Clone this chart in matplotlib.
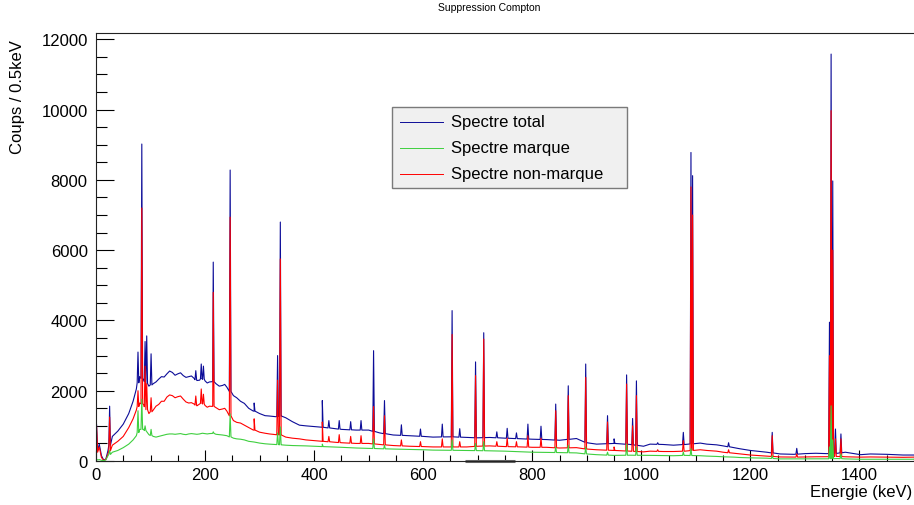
import numpy as np
import matplotlib
matplotlib.use('Agg')
import matplotlib.pyplot as plt
from matplotlib.ticker import MultipleLocator
from matplotlib.patches import Rectangle
from matplotlib.lines import Line2D

plt.rcParams['font.family'] = ['Liberation Sans', 'DejaVu Sans']

# continuum (keV, coups / 0.5keV)
cont_E = [0, 1, 3, 6, 10, 14, 18, 22, 30, 40, 50, 60, 68, 74, 80, 88, 97, 105,
          110, 115, 120, 125, 130, 135, 140, 145, 150, 155,
          160, 165, 170, 175, 180, 185, 190, 195, 200, 204,
          208, 214, 220, 226, 232, 236, 240, 252, 258, 265,
          272, 280, 290, 300, 310, 318, 330, 340, 348, 360,
          373, 385, 400, 415, 434, 450, 477, 500, 520, 545,
          575, 600, 618, 650, 680, 700, 722, 750, 783, 800,
          826, 850, 881, 900, 918, 950, 980, 1004, 1016, 1040,
          1059, 1080, 1108, 1120, 1138, 1150, 1170, 1180, 1200, 1230,
          1255, 1280, 1300, 1320, 1340, 1360, 1374, 1402, 1420, 1450,
          1480, 1500]
cont_total = [0, 1050, 300, 480, 150, 30, 50, 300, 700, 850, 1050, 1350, 1700, 2050, 2400, 2300, 2130, 2200,
              2250, 2330, 2400, 2390, 2480, 2560, 2520, 2440, 2480, 2510,
              2430, 2380, 2400, 2420, 2350, 2290, 2300, 2360, 2280, 2220,
              2250, 2270, 2200, 2130, 2150, 2180, 2100, 1860, 1800, 1700,
              1640, 1500, 1420, 1350, 1290, 1280, 1260, 1280, 1230, 1120,
              1020, 1000, 980, 960, 930, 900, 880, 880, 800, 740,
              720, 700, 680, 690, 670, 660, 670, 650, 630, 620,
              610, 590, 640, 520, 480, 500, 470, 420, 480, 470,
              450, 470, 510, 480, 460, 430, 380, 350, 300, 250,
              200, 190, 210, 220, 210, 220, 250, 180, 200, 190,
              170, 170]
cont_marque = [0, 50, 30, 40, 20, 10, 30, 150, 250, 300, 380, 480, 600, 720, 900, 900, 750, 700,
               680, 700, 720, 740, 760, 770, 770, 760, 770, 780,
               760, 750, 770, 780, 770, 760, 770, 790, 780, 770,
               780, 790, 760, 750, 740, 730, 720, 650, 630, 620,
               600, 560, 540, 510, 490, 480, 470, 460, 450, 440,
               435, 430, 420, 410, 400, 390, 370, 360, 350, 340,
               330, 320, 310, 305, 300, 295, 290, 280, 260, 250,
               245, 240, 230, 200, 180, 160, 165, 160, 160, 155,
               150, 160, 150, 140, 130, 120, 110, 100, 90, 80,
               60, 60, 60, 60, 60, 70, 60, 50, 50, 50,
               50, 50]
cont_non_marque = [0, 1000, 250, 400, 100, 20, 40, 200, 450, 560, 700, 950, 1200, 1450, 1650, 1600, 1350, 1450,
                   1560, 1610, 1700, 1700, 1820, 1880, 1860, 1800, 1830, 1850,
                   1760, 1680, 1650, 1660, 1620, 1570, 1620, 1650, 1580, 1530,
                   1560, 1560, 1520, 1460, 1480, 1500, 1420, 1150, 1100, 1080,
                   1020, 950, 880, 820, 790, 770, 750, 740, 680, 650,
                   630, 600, 580, 560, 540, 520, 500, 500, 470, 440,
                   420, 410, 400, 400, 400, 420, 430, 410, 400, 390,
                   390, 370, 380, 340, 320, 300, 280, 260, 280, 270,
                   270, 280, 320, 300, 280, 250, 220, 200, 170, 140,
                   115, 110, 115, 120, 120, 130, 120, 110, 115, 110,
                   105, 110]

# peaks: energy and top of each spectrum (0 = no visible peak)
peak_E = [25, 77, 84, 90, 93, 101, 183, 193, 197, 215, 246, 290, 333, 338,
          415, 427, 446, 467, 486, 509, 529, 560, 595, 635, 653, 667, 696, 711,
          735, 754, 771, 792, 816, 843, 866, 898, 938, 950, 973, 984, 991,
          1030, 1077, 1091, 1094, 1160, 1240, 1285, 1345, 1348, 1351, 1356, 1366]
peak_total = [1560, 3100, 9020, 3400, 3560, 3050, 2570, 2760, 2700, 5660, 8280,
              1650, 3000, 6800, 1720, 1150, 1150, 1120, 1150, 3140, 1720, 1030,
              910, 1050, 4280, 920, 2820, 3650, 830, 930, 800, 1050, 990, 1620,
              2140, 2760, 1290, 630, 2450, 1210, 2280, 520, 815, 8780, 8120,
              520, 815, 360, 3950, 11580, 7970, 910, 770]
peak_marque = [300, 1430, 1760, 1000, 0, 900, 0, 0, 0, 830, 1340, 0, 800, 970,
               480, 0, 0, 0, 0, 630, 450, 0, 0, 0, 600, 0, 500, 550, 0, 0, 0, 0,
               0, 400, 450, 400, 250, 0, 480, 0, 400, 0, 255, 350, 0, 0, 150, 0,
               400, 1570, 600, 0, 200]
peak_non_marque = [1250, 2000, 7200, 2700, 2200, 1800, 1850, 2050, 1900, 4800,
                   6940, 1200, 2300, 5750, 1110, 700, 750, 700, 720, 1550, 1290,
                   600, 550, 630, 3600, 550, 2430, 3470, 550, 650, 550, 720, 650,
                   1430, 1860, 2380, 1110, 400, 2190, 1000, 1860, 320, 580, 7800,
                   7000, 320, 720, 200, 3000, 9970, 6000, 630, 630]


def spectre(cont_y, peak_y):
    x = list(cont_E)
    y = list(cont_y)
    for e, top in zip(peak_E, peak_y):
        if top <= 0:
            continue
        pied = np.interp(e, cont_E, cont_y)
        x += [e - 1.5, e, e + 1.5]
        y += [pied, top, pied]
    x = np.array(x, dtype=float)
    y = np.array(y, dtype=float)
    o = np.argsort(x, kind='stable')
    return x[o], y[o]


c_total = '#0c0c98'
c_marque = '#3fcf3f'
c_non = '#ff0000'

W, H = 914, 506
fig = plt.figure(figsize=(W / 100, H / 100), dpi=100)
ax = fig.add_axes([96 / W, 1 - 462 / H, 818 / W, (462 - 34) / H])

x, y = spectre(cont_total, peak_total)
ax.plot(x, y, color=c_total, lw=0.8)
x, y = spectre(cont_non_marque, peak_non_marque)
ax.plot(x, y, color=c_non, lw=0.8)
x, y = spectre(cont_marque, peak_marque)
ax.plot(x, y, color=c_marque, lw=0.8)

ax.set_xlim(0, 1500)
ax.set_ylim(0, 12180)

ax.xaxis.set_major_locator(MultipleLocator(200))
ax.xaxis.set_minor_locator(MultipleLocator(50))
ax.yaxis.set_major_locator(MultipleLocator(2000))
ax.yaxis.set_minor_locator(MultipleLocator(500))
ax.tick_params(axis='x', which='major', direction='in', length=8, width=0.8,
               labelsize=12, pad=4)
ax.tick_params(axis='x', which='minor', direction='in', length=4.5, width=0.8)
ax.tick_params(axis='y', which='major', direction='in', length=13, width=0.8,
               labelsize=12, pad=6)
ax.tick_params(axis='y', which='minor', direction='in', length=8, width=0.8)
for s in ax.spines.values():
    s.set_linewidth(0.8)
    s.set_color('#222222')
ax.spines['right'].set_visible(False)

fig.text(912 / W, 1 - 493 / H, 'Energie (keV)', ha='right', va='center',
         fontsize=12)
fig.text(18 / W, 1 - 40 / H, 'Coups / 0.5keV', rotation=90, ha='center',
         va='top', fontsize=12)
fig.text(489 / W, 1 - 8 / H, 'Suppression Compton', ha='center',
         va='center', fontsize=7.5)

# grey range marker under the axis
ax.plot([676, 768], [0, 0], color='#666666', lw=2.2, clip_on=False,
        transform=ax.get_xaxis_transform(), solid_capstyle='butt')

# legend box, placed in pixel coordinates of the reference
fx = lambda xp: (xp - 96) / 818
fy = lambda yp: (462 - yp) / 428
ax.add_patch(Rectangle((fx(392), fy(189)), fx(627) - fx(392), fy(108) - fy(189),
                       transform=ax.transAxes, facecolor='#f0f0f0',
                       edgecolor='#7a7a7a', lw=1.0, zorder=5))
labels = ['Spectre total', 'Spectre marque', 'Spectre non-marque']
cols = [c_total, c_marque, c_non]
for i, (lab, col) in enumerate(zip(labels, cols)):
    yy = 123 + 26 * i
    ax.add_line(Line2D([fx(400), fx(443)], [fy(yy), fy(yy)], color=col, lw=0.7,
                       transform=ax.transAxes, zorder=6))
    ax.text(fx(451), fy(yy), lab, transform=ax.transAxes, ha='left',
            va='center', fontsize=12, zorder=6)

fig.savefig('out.png', dpi=100)
